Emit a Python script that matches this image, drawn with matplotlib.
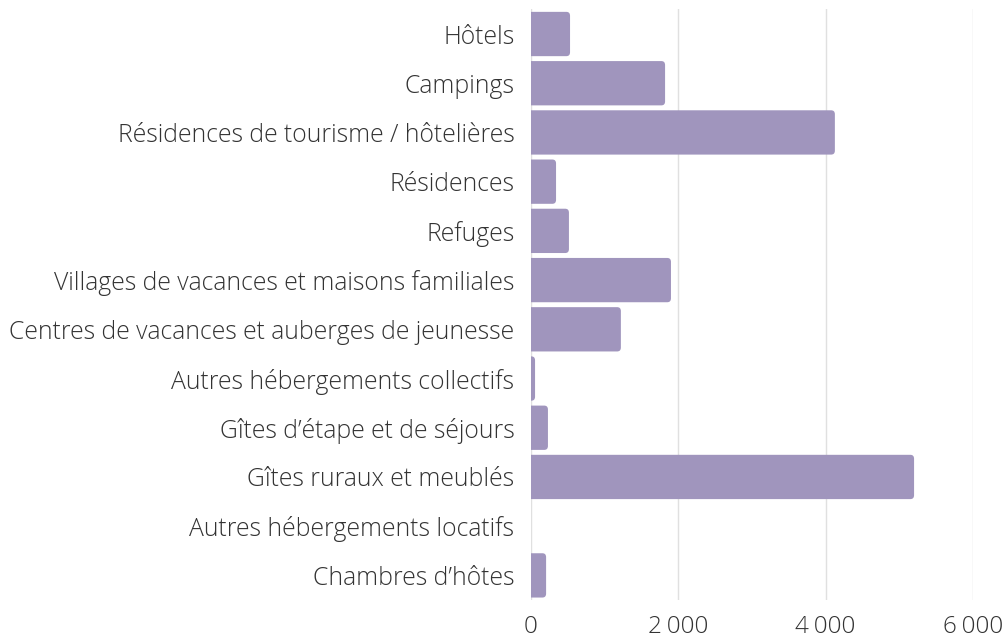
import matplotlib
matplotlib.use("Agg")
import matplotlib.pyplot as plt
from matplotlib.patches import FancyBboxPatch
from matplotlib.ticker import FuncFormatter

categories = [
    "Hôtels",
    "Campings",
    "Résidences de tourisme / hôtelières",
    "Résidences",
    "Refuges",
    "Villages de vacances et maisons familiales",
    "Centres de vacances et auberges de jeunesse",
    "Autres hébergements collectifs",
    "Gîtes d’étape et de séjours",
    "Gîtes ruraux et meublés",
    "Autres hébergements locatifs",
    "Chambres d’hôtes",
]
values = [530, 1820, 4125, 340, 515, 1900, 1220, 55, 230, 5200, 0, 205]
xticks = [0, 2000, 4000, 6000]

BAR_COLOR = "#A095BD"
TEXT_COLOR = "#333333"

plt.rcParams['font.family'] = ['Open Sans', 'DejaVu Sans']

fig = plt.figure(figsize=(10.05, 6.37), dpi=100)
ax = fig.add_axes([531/1005, 1 - 600/637, (973 - 531)/1005, (600 - 9.4)/637])

y = list(range(len(categories)))
bars = ax.barh(y, values, height=0.9, color=BAR_COLOR, zorder=2)

# replace bars with rounded-corner versions (right side rounded)
rx = 50.0
ry = 0.08
for b in bars:
    w = b.get_width()
    if w <= 0:
        b.set_visible(False)
        continue
    x0, y0, h = b.get_x(), b.get_y(), b.get_height()
    b.set_visible(False)
    p = FancyBboxPatch((x0 - rx, y0), w + rx, h,
                       boxstyle=f"round,pad=0,rounding_size={rx}",
                       mutation_aspect=ry / rx,
                       facecolor=BAR_COLOR, edgecolor="none", zorder=2)
    ax.add_patch(p)

ax.set_ylim(len(categories) - 0.5, -0.5)
ax.set_xlim(0, 6000)
ax.set_yticks(y)
ax.set_yticklabels(categories, fontsize=17.8, color=TEXT_COLOR, fontweight='light')
ax.set_xticks(xticks)
ax.xaxis.set_major_formatter(FuncFormatter(lambda v, p: f"{int(v):,}".replace(",", "\u2009")))
for lab in ax.get_xticklabels():
    lab.set_fontsize(17.5)
    lab.set_color(TEXT_COLOR)
    lab.set_fontweight('light')

ax.tick_params(axis='y', length=0, pad=12)
ax.tick_params(axis='x', length=0, pad=10.5, labelsize=17.5, labelcolor=TEXT_COLOR)
ax.grid(axis='x', color="#E0E0E0", linewidth=1, zorder=0)
ax.set_axisbelow(True)
for s in ax.spines.values():
    s.set_visible(False)

fig.savefig("out.png", dpi=100)
